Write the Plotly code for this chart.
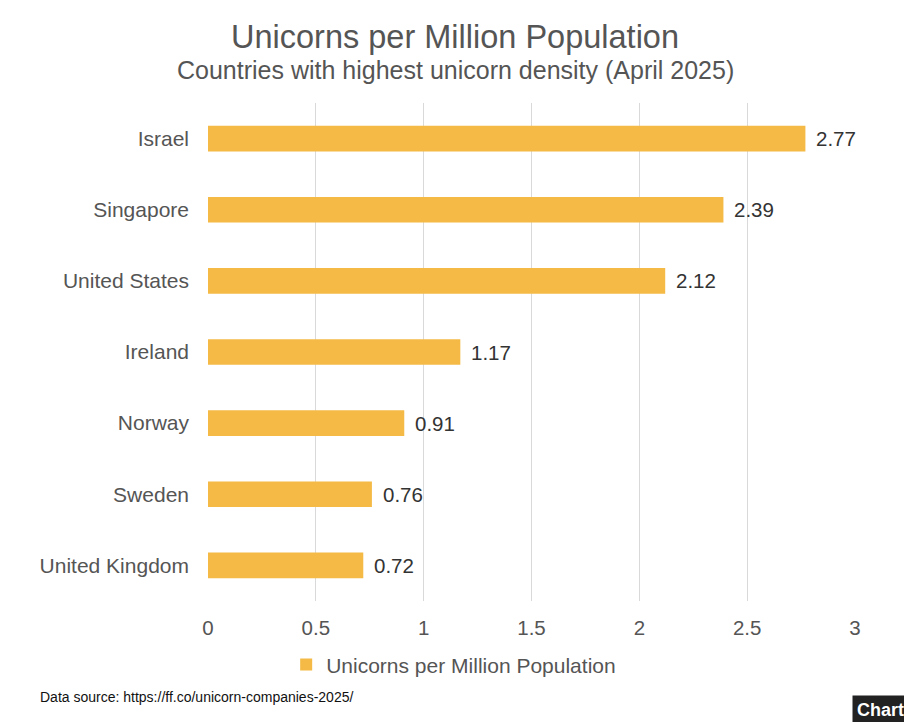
import plotly.graph_objects as go

countries = ["Israel", "Singapore", "United States", "Ireland", "Norway", "Sweden", "United Kingdom"]
unicorns_per_million = [2.77, 2.39, 2.12, 1.17, 0.91, 0.76, 0.72]
x_ticks = [0, 0.5, 1, 1.5, 2, 2.5, 3]
x_tick_labels = ["0", "0.5", "1", "1.5", "2", "2.5", "3"]

BAR_COLOUR = "#F4BA45"
TEXT_COLOUR = "#555555"
FONT = "Liberation Sans, Arial, sans-serif"

# page body adds an 8px margin, so the figure is 8px smaller each way
W, H = 904, 714
L, T, PW, PH = 200, 95, 647, 498

fig = go.Figure(go.Bar(
    x=unicorns_per_million,
    y=countries,
    orientation="h",
    name="Unicorns per Million Population",
    marker=dict(color=BAR_COLOUR, line=dict(width=0)),
    width=0.36,
))

# value labels just right of each bar
annotations = [
    dict(x=v, y=c, xref="x", yref="y", text=f"{v:.2f}", showarrow=False,
         xanchor="left", yanchor="middle", xshift=9,
         font=dict(size=20.5, color="#333333"))
    for c, v in zip(countries, unicorns_per_million)
]
annotations += [
    dict(text="Unicorns per Million Population",
         xref="paper", yref="paper", x=(447 - L) / PW, y=1 + 66 / PH,
         xanchor="center", yanchor="middle", showarrow=False,
         font=dict(size=32.5, color=TEXT_COLOUR)),
    dict(text="Countries with highest unicorn density (April 2025)",
         xref="paper", yref="paper", x=(447 - L) / PW, y=1 + 33 / PH,
         xanchor="center", yanchor="middle", showarrow=False,
         font=dict(size=25, color=TEXT_COLOUR)),
    dict(text="Data source: https://ff.co/unicorn-companies-2025/",
         xref="paper", yref="paper", x=(30 - L) / PW, y=-96 / PH,
         xanchor="left", yanchor="middle", showarrow=False,
         font=dict(size=14, color="#111111")),
    dict(text="<b>Chart</b>",
         xref="paper", yref="paper", x=(844 - L) / PW, y=-109 / PH,
         xanchor="left", yanchor="middle", showarrow=False,
         bgcolor="#222222", font=dict(size=18, color="white"),
         borderpad=4),
]

fig.update_layout(
    width=W, height=H,
    paper_bgcolor="white", plot_bgcolor="white",
    font=dict(family=FONT, color=TEXT_COLOUR),
    margin=dict(l=L, r=W - L - PW, t=T, b=H - T - PH, autoexpand=False),
    xaxis=dict(
        range=[0, 3], tickvals=x_ticks, ticktext=x_tick_labels,
        showgrid=True, gridcolor="#d9d9d9", gridwidth=1,
        zeroline=False, showline=False, ticks="",
        tickfont=dict(size=20.5, color=TEXT_COLOUR),
        ticklabelstandoff=12,
    ),
    yaxis=dict(
        categoryorder="array", categoryarray=countries[::-1],
        showgrid=False, showline=False, ticks="",
        tickfont=dict(size=21, color=TEXT_COLOUR),
        ticklabelstandoff=18,
    ),
    showlegend=True,
    legend=dict(
        orientation="h", xref="container", x=0.493, xanchor="center",
        yref="container", y=0.08, yanchor="middle",
        font=dict(size=21, color=TEXT_COLOUR),
        itemwidth=30,
    ),
    annotations=annotations,
)

fig.write_html("out.html")
